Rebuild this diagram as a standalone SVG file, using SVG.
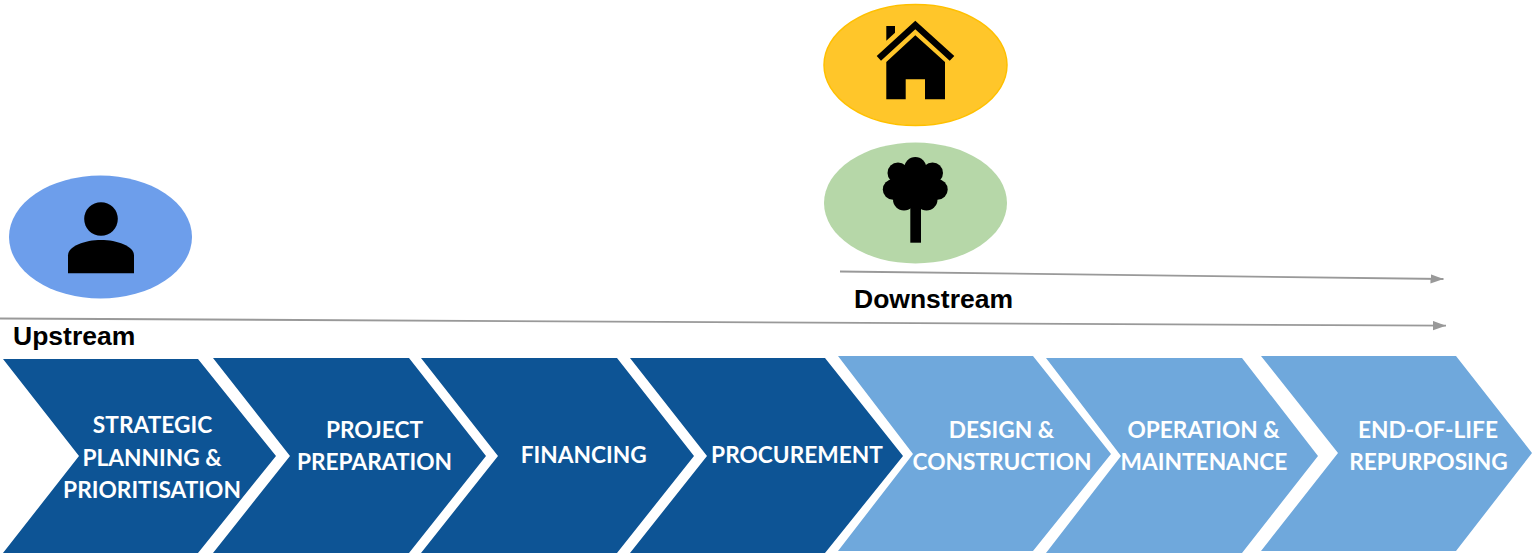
<svg xmlns="http://www.w3.org/2000/svg" width="1532" height="557" viewBox="0 0 1532 557">
  <style>
    .dark { fill: #0D5495; }
    .light { fill: #6FA8DC; }
    .step { font-family: "Lato", "Open Sans", sans-serif; font-weight: 700; font-size: 22.7px; fill: #FFFFFF; text-anchor: middle; }
    .dir { font-family: "Liberation Sans", Arial, sans-serif; font-weight: 700; font-size: 26.5px; fill: #000000; }
    .line { stroke: #999999; stroke-width: 1.8; fill: none; marker-end: url(#arrow); }
    .icon { fill: #000000; }
  </style>
  <defs>
    <marker id="arrow" markerUnits="userSpaceOnUse" markerWidth="13" markerHeight="10" refX="13" refY="5" orient="auto">
      <path d="M0,0.3 L13,5 L0,9.7 Z" fill="#999999"/>
    </marker>
  </defs>
  <rect width="1532" height="557" fill="#FFFFFF"/>

  <g id="connectors">
    <path class="line" d="M840,271.5 L1443.5,279"/>
    <path class="line" d="M0,318.5 L1446,325.7"/>
  </g>

  <g id="node-person">
    <ellipse cx="100.5" cy="237" rx="91.5" ry="61.5" fill="#6D9EEB"/>
    <circle class="icon" cx="101" cy="219" r="16.8"/>
    <path class="icon" d="M68,273.3 V255.5 C68,246 85,240 101,240 C117,240 134,246 134,255.5 V273.3 Z"/>
  </g>
  <g id="node-house">
    <ellipse cx="915.5" cy="65" rx="91.5" ry="60.5" fill="#FFC62A" stroke="#FFC000" stroke-width="1.5"/>
    <path class="icon" d="M915.3,20.7 L954.3,56 L949.7,60.7 L915.3,29.3 L881,60.7 L876.7,56 Z"/>
    <path class="icon" d="M886.3,26 H895 V32.7 L886.3,40.7 Z"/>
    <path class="icon" d="M915.3,35.3 L945,62 V99.3 H925 V79.3 H905.7 V99.3 H886.3 V62 Z"/>
  </g>
  <g id="node-tree">
    <ellipse cx="915.5" cy="203" rx="91.5" ry="60.5" fill="#B6D7A8"/>
    <circle class="icon" cx="915.3" cy="168" r="11"/>
    <circle class="icon" cx="898" cy="173" r="10.5"/>
    <circle class="icon" cx="932.5" cy="173" r="10.5"/>
    <circle class="icon" cx="893" cy="189.5" r="10.2"/>
    <circle class="icon" cx="937.5" cy="189.5" r="10.2"/>
    <circle class="icon" cx="904" cy="199.5" r="11"/>
    <circle class="icon" cx="926.5" cy="199.5" r="11"/>
    <circle class="icon" cx="915.3" cy="186" r="22"/>
    <rect class="icon" x="910.3" y="200" width="10.7" height="42.7"/>
  </g>

  <g id="label-upstream"><text class="dir" x="13" y="344.5">Upstream</text></g>
  <g id="label-downstream"><text class="dir" x="854" y="308">Downstream</text></g>

  <g id="step-strategic">
    <polygon class="dark" points="3,359 198,359 276,456 198,553 3,553 79,456"/>
    <text class="step" x="152.5" y="433">STRATEGIC</text>
    <text class="step" x="152" y="465.5">PLANNING &amp;</text>
    <text class="step" x="152" y="497.5">PRIORITISATION</text>
  </g>
  <g id="step-project">
    <polygon class="dark" points="213,358 409,358 486,456 409,553 213,553 290,456"/>
    <text class="step" x="374.5" y="438">PROJECT</text>
    <text class="step" x="374.5" y="470">PREPARATION</text>
  </g>
  <g id="step-financing">
    <polygon class="dark" points="421,358 617,358 694,456 617,553 421,553 498,456"/>
    <text class="step" x="583.7" y="462.5">FINANCING</text>
  </g>
  <g id="step-procurement">
    <polygon class="dark" points="630,358 825,358 903,456 825,553 630,553 707,456"/>
    <text class="step" x="797" y="462.5">PROCUREMENT</text>
  </g>
  <g id="step-design">
    <polygon class="light" points="838,356 1033,356 1111,454 1033,551 838,551 913,454"/>
    <text class="step" x="1001.5" y="438">DESIGN &amp;</text>
    <text class="step" x="1002" y="470">CONSTRUCTION</text>
  </g>
  <g id="step-operation">
    <polygon class="light" points="1046,358 1242,358 1318,456 1242,553 1046,553 1121,456"/>
    <text class="step" x="1203.5" y="438">OPERATION &amp;</text>
    <text class="step" x="1204" y="470">MAINTENANCE</text>
  </g>
  <g id="step-end">
    <polygon class="light" points="1261,356 1456,356 1532,453 1456,551 1261,551 1338,453"/>
    <text class="step" x="1428" y="438">END-OF-LIFE</text>
    <text class="step" x="1428.5" y="470">REPURPOSING</text>
  </g>
</svg>
